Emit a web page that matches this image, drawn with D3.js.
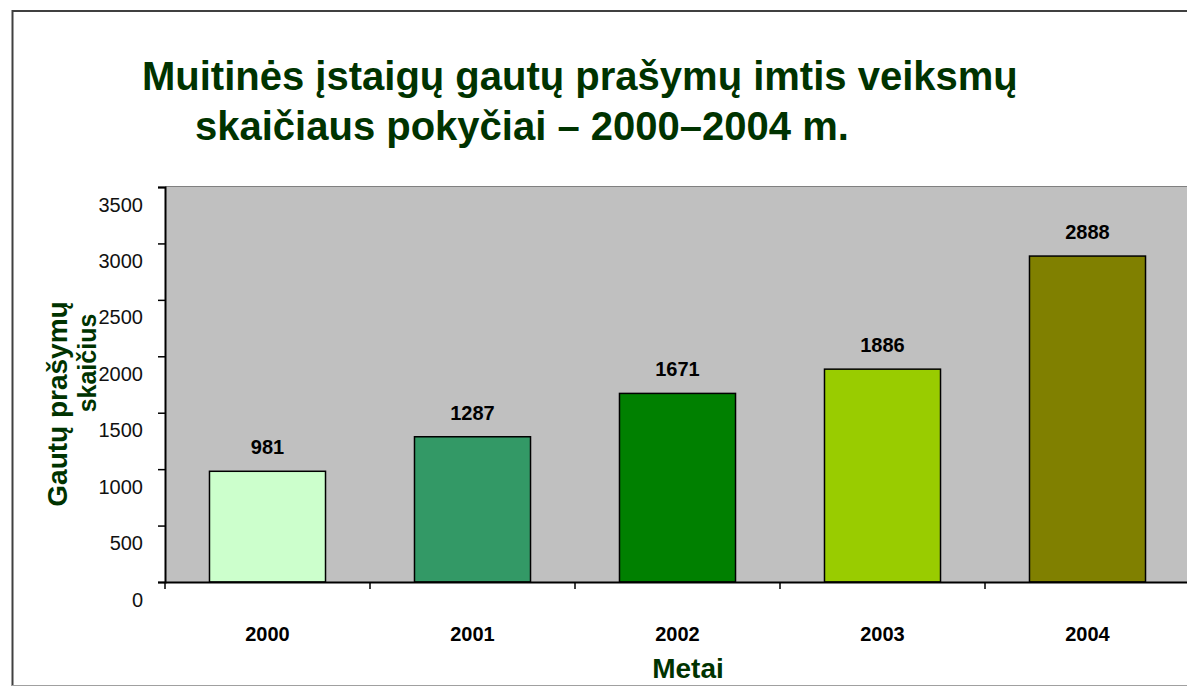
<!DOCTYPE html>
<html>
<head>
<meta charset="utf-8">
<script src="https://cdnjs.cloudflare.com/ajax/libs/d3/7.8.5/d3.min.js"></script>
<style>
    body { margin: 0; background: #fff; }
    svg { display: block; font-family: "Liberation Sans", Arial, sans-serif; }
</style>
</head>
<body>
<svg id="chart" width="1187" height="686"></svg>
<script>
// chart data
let years = ["2000", "2001", "2002", "2003", "2004"];
let requests = [981, 1287, 1671, 1886, 2888];
let barColors = ["#CCFFCC", "#339966", "#008000", "#99CC00", "#808000"];
let yTicks = [0, 500, 1000, 1500, 2000, 2500, 3000, 3500];
let titleLines = ["Muitinės įstaigų gautų prašymų imtis veiksmų", "skaičiaus pokyčiai – 2000–2004 m."];
let yTitleLines = ["Gautų prašymų", "skaičius"];
let xTitle = "Metai";

let svg = d3.select("#chart"),
    margin = {top: 187, right: -3, bottom: 104, left: 165},
    width = svg.attr("width") - margin.left - margin.right,
    height = svg.attr("height") - margin.top - margin.bottom;

let green = "#003300";

// outer frame (runs off the right side like the original)
svg.append("line").attr("x1", 12.5).attr("x2", 12.5).attr("y1", 10).attr("y2", 686)
    .attr("stroke", "#404040").attr("stroke-width", 2);
svg.append("line").attr("x1", 12).attr("x2", 1187).attr("y1", 11).attr("y2", 11)
    .attr("stroke", "#404040").attr("stroke-width", 2);
svg.append("line").attr("x1", 12).attr("x2", 1187).attr("y1", 685.5).attr("y2", 685.5)
    .attr("stroke", "#a0a0a0").attr("stroke-width", 1);

// title, two lines, not centred on each other
let titleX = [142, 195], titleY = [90, 140];
svg.selectAll(".title")
    .data(titleLines)
    .enter().append("text")
    .attr("class", "title")
    .attr("x", function(d, i) { return titleX[i]; })
    .attr("y", function(d, i) { return titleY[i]; })
    .attr("fill", green)
    .style("font-size", "40px")
    .style("font-weight", "bold")
    .text(function(d) { return d; });

let g = svg.append("g").attr("transform", "translate(" + margin.left + "," + margin.top + ")");

let x = d3.scaleBand().domain(years).range([0, width]).paddingInner(0.434).paddingOuter(0.217),
    y = d3.scaleLinear().domain([0, 3500]).range([height, 0]);

// plot area
g.append("rect")
    .attr("width", width)
    .attr("height", height)
    .attr("fill", "#C0C0C0");
g.append("line").attr("x1", 0).attr("x2", width).attr("y1", -0.5).attr("y2", -0.5)
    .attr("stroke", "#808080").attr("stroke-width", 1);

// bars
g.selectAll(".bar")
    .data(requests)
    .enter().append("rect")
    .attr("class", "bar")
    .attr("x", function(d, i) { return x(years[i]); })
    .attr("y", function(d) { return y(d); })
    .attr("width", x.bandwidth())
    .attr("height", function(d) { return height - y(d); })
    .attr("fill", function(d, i) { return barColors[i]; })
    .attr("stroke", "#000")
    .attr("stroke-width", 1.5);

// value labels
g.selectAll(".value")
    .data(requests)
    .enter().append("text")
    .attr("class", "value")
    .attr("x", function(d, i) { return x(years[i]) + x.bandwidth() / 2; })
    .attr("y", function(d) { return y(d) - 17; })
    .attr("text-anchor", "middle")
    .style("font-size", "20px")
    .style("font-weight", "bold")
    .text(function(d) { return d; });

// y axis - labels sit a bit below their ticks as in the original
let yAxis = g.append("g")
    .attr("class", "axis axis--y")
    .call(d3.axisLeft(y).tickValues(yTicks).tickFormat(d3.format("d")).tickSize(7).tickPadding(15));
yAxis.select(".domain").attr("stroke", "#000").attr("stroke-width", 2);
yAxis.selectAll(".tick line").attr("stroke", "#000").attr("stroke-width", 1.5);
yAxis.selectAll(".tick text")
    .attr("dy", "1.2em")
    .attr("fill", "#111")
    .style("font-size", "20px")
    .style("font-family", "\"Liberation Sans\", Arial, sans-serif");

// x axis - ticks between the categories
let xAxis = g.append("g")
    .attr("class", "axis axis--x")
    .attr("transform", "translate(0," + height + ")")
    .call(d3.axisBottom(x).tickSize(0).tickPadding(45));
xAxis.select(".domain").attr("stroke", "#000").attr("stroke-width", 2);
xAxis.selectAll(".tick text")
    .attr("fill", "#000")
    .style("font-size", "20px")
    .style("font-weight", "bold")
    .style("font-family", "\"Liberation Sans\", Arial, sans-serif");
xAxis.selectAll(".sep")
    .data(years)
    .enter().append("line")
    .attr("class", "sep")
    .attr("x1", function(d) { return x(d) - x.step() * x.paddingOuter(); })
    .attr("x2", function(d) { return x(d) - x.step() * x.paddingOuter(); })
    .attr("y1", 0)
    .attr("y2", 7)
    .attr("stroke", "#000")
    .attr("stroke-width", 1.5);

// axis titles
let yTitleX = [67, 96], yTitleY = [404, 363], yTitleSize = ["28px", "25px"];
svg.selectAll(".ytitle")
    .data(yTitleLines)
    .enter().append("text")
    .attr("class", "ytitle")
    .attr("transform", function(d, i) { return "translate(" + yTitleX[i] + "," + yTitleY[i] + ") rotate(-90)"; })
    .attr("text-anchor", "middle")
    .attr("fill", green)
    .style("font-size", function(d, i) { return yTitleSize[i]; })
    .style("font-weight", "bold")
    .text(function(d) { return d; });

svg.append("text")
    .attr("x", 688)
    .attr("y", 678)
    .attr("text-anchor", "middle")
    .attr("fill", green)
    .style("font-size", "28px")
    .style("font-weight", "bold")
    .text(xTitle);
</script>
</body>
</html>
